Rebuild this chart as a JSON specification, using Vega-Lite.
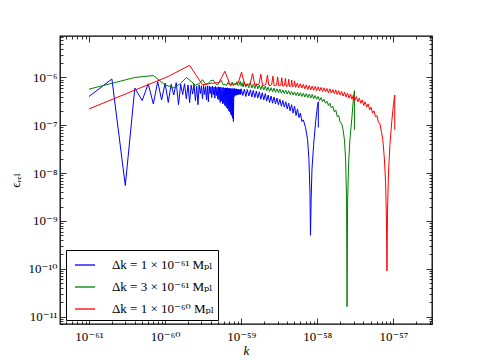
{
"$schema": "https://vega.github.io/schema/vega-lite/v6.json",
"width": 372, "height": 288,
"autosize": "none",
"padding": {"left": 60, "top": 36, "right": 48, "bottom": 36},
"config": {
 "view": {"stroke": "#000", "strokeWidth": 1.3},
 "font": "Liberation Serif, DejaVu Serif",
 "axis": {"domain": false, "grid": false, "labelFont": "Liberation Serif, DejaVu Serif", "labelFontSize": 13, "labelColor": "#000", "tickColor": "#000", "tickWidth": 0.8, "labelOverlap": false, "labelFlush": false, "titleFont": "Liberation Serif, DejaVu Serif", "titleFontWeight": "normal", "titleFontSize": 13, "titleColor": "#000"}
},
"layer": [
{
"data": {"values": [
{"s":"a","k":1e-61,"e":4.0e-7},{"s":"a","k":2e-61,"e":9.3e-7},{"s":"a","k":3e-61,"e":5.5e-9},{"s":"a","k":4e-61,"e":6.0e-7},{"s":"a","k":5e-61,"e":3.3e-7},{"s":"a","k":6e-61,"e":7.4e-7},{"s":"a","k":7e-61,"e":2.8e-7},{"s":"a","k":8e-61,"e":8.2e-7},{"s":"a","k":9e-61,"e":3.4e-7},{"s":"a","k":10e-61,"e":7.6e-7},
{"s":"a","k":11e-61,"e":3.0e-7},{"s":"a","k":12e-61,"e":7.2e-7},{"s":"a","k":13e-61,"e":4.3e-7},{"s":"a","k":14e-61,"e":7.8e-7},{"s":"a","k":15e-61,"e":2.7e-7},{"s":"a","k":16e-61,"e":7.2e-7},{"s":"a","k":17e-61,"e":4.4e-7},{"s":"a","k":18e-61,"e":7.4e-7},{"s":"a","k":19e-61,"e":3.6e-7},{"s":"a","k":20e-61,"e":7.0e-7},
{"s":"a","k":21e-61,"e":3.0e-7},{"s":"a","k":22e-61,"e":6.9e-7},{"s":"a","k":23e-61,"e":4.5e-7},{"s":"a","k":24e-61,"e":7.3e-7},{"s":"a","k":25e-61,"e":3.3e-7},{"s":"a","k":26e-61,"e":6.6e-7},{"s":"a","k":27e-61,"e":2.7e-7},{"s":"a","k":28e-61,"e":7.0e-7},{"s":"a","k":29e-61,"e":4.6e-7},{"s":"a","k":30e-61,"e":6.7e-7},
{"s":"a","k":31e-61,"e":3.6e-7},{"s":"a","k":32e-61,"e":6.8e-7},{"s":"a","k":33e-61,"e":4.4e-7},{"s":"a","k":34e-61,"e":6.5e-7},{"s":"a","k":35e-61,"e":3.4e-7},{"s":"a","k":36e-61,"e":6.7e-7},{"s":"a","k":37e-61,"e":3.1e-7},{"s":"a","k":38e-61,"e":6.6e-7},{"s":"a","k":39e-61,"e":4.6e-7},{"s":"a","k":40e-61,"e":6.4e-7},
{"s":"a","k":41e-61,"e":3.8e-7},{"s":"a","k":42e-61,"e":6.6e-7},{"s":"a","k":43e-61,"e":4.4e-7},{"s":"a","k":44e-61,"e":6.3e-7},{"s":"a","k":45e-61,"e":3.7e-7},{"s":"a","k":46e-61,"e":6.5e-7},{"s":"a","k":47e-61,"e":4.2e-7},{"s":"a","k":48e-61,"e":6.2e-7},{"s":"a","k":49e-61,"e":3.6e-7},{"s":"a","k":50e-61,"e":6.4e-7},
{"s":"a","k":51e-61,"e":3.4e-7},{"s":"a","k":52e-61,"e":6.2e-7},{"s":"a","k":53e-61,"e":3.0e-7},{"s":"a","k":54e-61,"e":6.3e-7},{"s":"a","k":55e-61,"e":3.2e-7},{"s":"a","k":56e-61,"e":6.1e-7},{"s":"a","k":57e-61,"e":2.8e-7},{"s":"a","k":58e-61,"e":6.2e-7},{"s":"a","k":59e-61,"e":2.9e-7},{"s":"a","k":60e-61,"e":6.0e-7},
{"s":"a","k":61e-61,"e":2.6e-7},{"s":"a","k":62e-61,"e":6.1e-7},{"s":"a","k":63e-61,"e":2.5e-7},{"s":"a","k":64e-61,"e":6.0e-7},{"s":"a","k":65e-61,"e":2.3e-7},{"s":"a","k":66e-61,"e":6.1e-7},{"s":"a","k":67e-61,"e":2.2e-7},{"s":"a","k":68e-61,"e":5.9e-7},{"s":"a","k":69e-61,"e":2.0e-7},{"s":"a","k":70e-61,"e":6.0e-7},
{"s":"a","k":71e-61,"e":1.9e-7},{"s":"a","k":72e-61,"e":5.9e-7},{"s":"a","k":73e-61,"e":1.7e-7},{"s":"a","k":74e-61,"e":5.8e-7},{"s":"a","k":75e-61,"e":1.6e-7},{"s":"a","k":76e-61,"e":5.9e-7},{"s":"a","k":77e-61,"e":1.4e-7},{"s":"a","k":78e-61,"e":5.8e-7},{"s":"a","k":79e-61,"e":1.2e-7},{"s":"a","k":80e-61,"e":5.8e-7},
{"s":"a","k":81e-61,"e":4.0e-7},{"s":"a","k":82e-61,"e":5.9e-7},{"s":"a","k":83e-61,"e":4.3e-7},{"s":"a","k":84e-61,"e":5.7e-7},{"s":"a","k":85e-61,"e":4.2e-7},{"s":"a","k":86e-61,"e":5.8e-7},{"s":"a","k":87e-61,"e":4.4e-7},{"s":"a","k":88e-61,"e":5.7e-7},{"s":"a","k":89e-61,"e":4.3e-7},{"s":"a","k":90e-61,"e":5.6e-7},
{"s":"a","k":91e-61,"e":4.5e-7},{"s":"a","k":92e-61,"e":5.7e-7},{"s":"a","k":93e-61,"e":4.4e-7},{"s":"a","k":94e-61,"e":5.6e-7},{"s":"a","k":95e-61,"e":4.6e-7},{"s":"a","k":96e-61,"e":5.5e-7},{"s":"a","k":97e-61,"e":4.4e-7},{"s":"a","k":98e-61,"e":5.6e-7},{"s":"a","k":99e-61,"e":4.5e-7},{"s":"a","k":100e-61,"e":5.8e-7},
{"s":"a","k":105e-61,"e":4.2e-7},{"s":"a","k":110e-61,"e":5.7e-7},{"s":"a","k":115e-61,"e":4.0e-7},{"s":"a","k":120e-61,"e":5.6e-7},{"s":"a","k":126e-61,"e":4.1e-7},{"s":"a","k":132e-61,"e":5.5e-7},{"s":"a","k":138e-61,"e":3.9e-7},{"s":"a","k":144e-61,"e":5.4e-7},{"s":"a","k":151e-61,"e":3.8e-7},{"s":"a","k":158e-61,"e":5.2e-7},
{"s":"a","k":165e-61,"e":3.7e-7},{"s":"a","k":173e-61,"e":5.0e-7},{"s":"a","k":181e-61,"e":3.5e-7},{"s":"a","k":189e-61,"e":4.8e-7},{"s":"a","k":198e-61,"e":3.4e-7},{"s":"a","k":207e-61,"e":4.6e-7},{"s":"a","k":216e-61,"e":3.2e-7},{"s":"a","k":226e-61,"e":4.3e-7},{"s":"a","k":236e-61,"e":3.0e-7},{"s":"a","k":247e-61,"e":4.1e-7},
{"s":"a","k":258e-61,"e":2.9e-7},{"s":"a","k":270e-61,"e":3.9e-7},{"s":"a","k":282e-61,"e":2.8e-7},{"s":"a","k":295e-61,"e":3.7e-7},{"s":"a","k":308e-61,"e":2.7e-7},{"s":"a","k":322e-61,"e":3.5e-7},{"s":"a","k":337e-61,"e":2.5e-7},{"s":"a","k":352e-61,"e":3.3e-7},{"s":"a","k":368e-61,"e":2.4e-7},{"s":"a","k":385e-61,"e":3.1e-7},
{"s":"a","k":402e-61,"e":2.2e-7},{"s":"a","k":420e-61,"e":2.9e-7},{"s":"a","k":439e-61,"e":2.0e-7},{"s":"a","k":459e-61,"e":2.7e-7},{"s":"a","k":480e-61,"e":1.8e-7},{"s":"a","k":502e-61,"e":2.5e-7},{"s":"a","k":525e-61,"e":1.6e-7},{"s":"a","k":549e-61,"e":2.2e-7},{"s":"a","k":574e-61,"e":1.45e-7},{"s":"a","k":600e-61,"e":1.8e-7},
{"s":"a","k":627e-61,"e":1.2e-7},{"s":"a","k":655e-61,"e":1.3e-7},{"s":"a","k":700e-61,"e":9e-8},{"s":"a","k":745e-61,"e":5e-8},{"s":"a","k":775e-61,"e":2e-8},{"s":"a","k":800e-61,"e":4e-9},{"s":"a","k":813e-61,"e":5e-10},{"s":"a","k":830e-61,"e":3e-9},{"s":"a","k":850e-61,"e":1.2e-8},{"s":"a","k":895e-61,"e":4e-8},
{"s":"a","k":950e-61,"e":1.2e-7},{"s":"a","k":1000e-61,"e":2.4e-7},{"s":"a","k":1030e-61,"e":3.1e-7},{"s":"a","k":1031e-61,"e":9e-8},

{"s":"b","k":1e-61,"e":5.7e-7},{"s":"b","k":4e-61,"e":1.0e-6},{"s":"b","k":7e-61,"e":1.1e-6},{"s":"b","k":10e-61,"e":7.0e-7},{"s":"b","k":13e-61,"e":6.1e-7},{"s":"b","k":16e-61,"e":7.5e-7},{"s":"b","k":19e-61,"e":1.0e-6},{"s":"b","k":22e-61,"e":8.3e-7},{"s":"b","k":25e-61,"e":6.9e-7},{"s":"b","k":28e-61,"e":7.4e-7},
{"s":"b","k":31e-61,"e":9.0e-7},{"s":"b","k":34e-61,"e":7.2e-7},{"s":"b","k":37e-61,"e":7.6e-7},{"s":"b","k":40e-61,"e":8.6e-7},{"s":"b","k":43e-61,"e":8.8e-7},{"s":"b","k":46e-61,"e":7.4e-7},{"s":"b","k":49e-61,"e":7.0e-7},{"s":"b","k":52e-61,"e":8.2e-7},{"s":"b","k":55e-61,"e":8.6e-7},{"s":"b","k":58e-61,"e":7.0e-7},
{"s":"b","k":61e-61,"e":7.3e-7},{"s":"b","k":64e-61,"e":6.7e-7},{"s":"b","k":67e-61,"e":7.9e-7},{"s":"b","k":70e-61,"e":7.0e-7},{"s":"b","k":73e-61,"e":6.6e-7},{"s":"b","k":76e-61,"e":8.0e-7},{"s":"b","k":79e-61,"e":6.8e-7},{"s":"b","k":82e-61,"e":7.4e-7},{"s":"b","k":85e-61,"e":6.9e-7},{"s":"b","k":88e-61,"e":8.2e-7},
{"s":"b","k":91e-61,"e":6.8e-7},{"s":"b","k":94e-61,"e":7.0e-7},{"s":"b","k":97e-61,"e":8.3e-7},{"s":"b","k":100e-61,"e":6.6e-7},{"s":"b","k":103e-61,"e":7.8e-7},{"s":"b","k":106e-61,"e":6.3e-7},{"s":"b","k":110e-61,"e":8.2e-7},{"s":"b","k":115e-61,"e":6.3e-7},{"s":"b","k":120e-61,"e":7.4e-7},{"s":"b","k":126e-61,"e":6.1e-7},
{"s":"b","k":132e-61,"e":7.8e-7},{"s":"b","k":138e-61,"e":6.0e-7},{"s":"b","k":144e-61,"e":7.2e-7},{"s":"b","k":151e-61,"e":5.9e-7},{"s":"b","k":158e-61,"e":7.4e-7},{"s":"b","k":165e-61,"e":5.8e-7},{"s":"b","k":173e-61,"e":6.9e-7},{"s":"b","k":181e-61,"e":5.6e-7},{"s":"b","k":189e-61,"e":6.8e-7},{"s":"b","k":198e-61,"e":5.5e-7},
{"s":"b","k":207e-61,"e":6.6e-7},{"s":"b","k":216e-61,"e":5.3e-7},{"s":"b","k":226e-61,"e":6.3e-7},{"s":"b","k":236e-61,"e":5.1e-7},{"s":"b","k":247e-61,"e":6.1e-7},{"s":"b","k":258e-61,"e":5.0e-7},{"s":"b","k":270e-61,"e":6.0e-7},{"s":"b","k":282e-61,"e":4.9e-7},{"s":"b","k":295e-61,"e":5.8e-7},{"s":"b","k":308e-61,"e":4.8e-7},
{"s":"b","k":322e-61,"e":5.7e-7},{"s":"b","k":337e-61,"e":4.7e-7},{"s":"b","k":352e-61,"e":5.5e-7},{"s":"b","k":368e-61,"e":4.6e-7},{"s":"b","k":385e-61,"e":5.4e-7},{"s":"b","k":402e-61,"e":4.5e-7},{"s":"b","k":420e-61,"e":5.3e-7},{"s":"b","k":439e-61,"e":4.4e-7},{"s":"b","k":459e-61,"e":5.1e-7},{"s":"b","k":480e-61,"e":4.3e-7},
{"s":"b","k":502e-61,"e":5.0e-7},{"s":"b","k":525e-61,"e":4.2e-7},{"s":"b","k":549e-61,"e":4.9e-7},{"s":"b","k":574e-61,"e":4.1e-7},{"s":"b","k":600e-61,"e":4.8e-7},{"s":"b","k":627e-61,"e":4.0e-7},{"s":"b","k":655e-61,"e":4.7e-7},{"s":"b","k":685e-61,"e":3.9e-7},{"s":"b","k":716e-61,"e":4.6e-7},{"s":"b","k":749e-61,"e":3.8e-7},
{"s":"b","k":783e-61,"e":4.5e-7},{"s":"b","k":819e-61,"e":3.7e-7},{"s":"b","k":856e-61,"e":4.4e-7},{"s":"b","k":895e-61,"e":3.6e-7},{"s":"b","k":936e-61,"e":4.2e-7},{"s":"b","k":979e-61,"e":3.5e-7},{"s":"b","k":1024e-61,"e":4.0e-7},{"s":"b","k":1070e-61,"e":3.3e-7},{"s":"b","k":1119e-61,"e":3.8e-7},{"s":"b","k":1170e-61,"e":3.1e-7},
{"s":"b","k":1223e-61,"e":3.5e-7},{"s":"b","k":1279e-61,"e":2.9e-7},{"s":"b","k":1337e-61,"e":3.2e-7},{"s":"b","k":1398e-61,"e":2.6e-7},{"s":"b","k":1462e-61,"e":2.9e-7},{"s":"b","k":1528e-61,"e":2.3e-7},{"s":"b","k":1598e-61,"e":2.5e-7},{"s":"b","k":1670e-61,"e":1.9e-7},{"s":"b","k":1746e-61,"e":2.1e-7},{"s":"b","k":1826e-61,"e":1.5e-7},
{"s":"b","k":1909e-61,"e":1.6e-7},{"s":"b","k":1996e-61,"e":1.15e-7},{"s":"b","k":2087e-61,"e":1.1e-7},{"s":"b","k":2180e-61,"e":8e-8},{"s":"b","k":2270e-61,"e":5e-8},{"s":"b","k":2350e-61,"e":2e-8},{"s":"b","k":2420e-61,"e":3e-9},{"s":"b","k":2460e-61,"e":1.6e-11},{"s":"b","k":2500e-61,"e":2.5e-9},{"s":"b","k":2570e-61,"e":1.5e-8},
{"s":"b","k":2680e-61,"e":5e-8},{"s":"b","k":2850e-61,"e":1.5e-7},{"s":"b","k":2960e-61,"e":3.2e-7},{"s":"b","k":3070e-61,"e":5.3e-7},{"s":"b","k":3075e-61,"e":8e-8},

{"s":"c","k":1e-61,"e":2.2e-7},{"s":"c","k":11e-61,"e":1.05e-6},{"s":"c","k":21e-61,"e":1.8e-6},{"s":"c","k":31e-61,"e":7.0e-7},{"s":"c","k":41e-61,"e":7.6e-7},{"s":"c","k":51e-61,"e":7.8e-7},{"s":"c","k":61e-61,"e":1.35e-6},{"s":"c","k":71e-61,"e":7.2e-7},{"s":"c","k":81e-61,"e":7.3e-7},{"s":"c","k":91e-61,"e":7.6e-7},
{"s":"c","k":101e-61,"e":1.3e-6},{"s":"c","k":111e-61,"e":7.0e-7},{"s":"c","k":121e-61,"e":7.1e-7},{"s":"c","k":131e-61,"e":7.4e-7},{"s":"c","k":141e-61,"e":1.22e-6},{"s":"c","k":151e-61,"e":6.9e-7},{"s":"c","k":161e-61,"e":7.0e-7},{"s":"c","k":171e-61,"e":7.3e-7},{"s":"c","k":181e-61,"e":1.17e-6},{"s":"c","k":191e-61,"e":6.8e-7},
{"s":"c","k":201e-61,"e":6.9e-7},{"s":"c","k":211e-61,"e":7.2e-7},{"s":"c","k":221e-61,"e":1.12e-6},{"s":"c","k":231e-61,"e":6.8e-7},{"s":"c","k":241e-61,"e":6.8e-7},{"s":"c","k":251e-61,"e":7.1e-7},{"s":"c","k":261e-61,"e":1.07e-6},{"s":"c","k":271e-61,"e":6.7e-7},{"s":"c","k":281e-61,"e":6.8e-7},{"s":"c","k":291e-61,"e":7.0e-7},
{"s":"c","k":301e-61,"e":1.03e-6},{"s":"c","k":311e-61,"e":6.7e-7},{"s":"c","k":321e-61,"e":6.7e-7},{"s":"c","k":331e-61,"e":6.9e-7},{"s":"c","k":341e-61,"e":9.9e-7},{"s":"c","k":351e-61,"e":6.6e-7},{"s":"c","k":361e-61,"e":6.6e-7},{"s":"c","k":371e-61,"e":6.9e-7},{"s":"c","k":381e-61,"e":9.6e-7},{"s":"c","k":391e-61,"e":6.5e-7},
{"s":"c","k":401e-61,"e":6.6e-7},{"s":"c","k":411e-61,"e":6.8e-7},{"s":"c","k":421e-61,"e":9.2e-7},{"s":"c","k":431e-61,"e":6.5e-7},{"s":"c","k":441e-61,"e":6.5e-7},{"s":"c","k":451e-61,"e":6.7e-7},{"s":"c","k":461e-61,"e":8.8e-7},{"s":"c","k":471e-61,"e":6.4e-7},{"s":"c","k":481e-61,"e":6.5e-7},{"s":"c","k":491e-61,"e":6.6e-7},
{"s":"c","k":501e-61,"e":8.5e-7},{"s":"c","k":520e-61,"e":6.2e-7},{"s":"c","k":545e-61,"e":7.6e-7},{"s":"c","k":570e-61,"e":6.1e-7},{"s":"c","k":597e-61,"e":7.4e-7},{"s":"c","k":625e-61,"e":6.0e-7},{"s":"c","k":654e-61,"e":7.2e-7},{"s":"c","k":685e-61,"e":5.8e-7},{"s":"c","k":716e-61,"e":7.0e-7},{"s":"c","k":749e-61,"e":5.6e-7},
{"s":"c","k":783e-61,"e":6.8e-7},{"s":"c","k":819e-61,"e":5.5e-7},{"s":"c","k":856e-61,"e":6.6e-7},{"s":"c","k":895e-61,"e":5.4e-7},{"s":"c","k":936e-61,"e":6.5e-7},{"s":"c","k":979e-61,"e":5.3e-7},{"s":"c","k":1024e-61,"e":6.4e-7},{"s":"c","k":1070e-61,"e":5.2e-7},{"s":"c","k":1119e-61,"e":6.2e-7},{"s":"c","k":1170e-61,"e":5.1e-7},
{"s":"c","k":1223e-61,"e":6.1e-7},{"s":"c","k":1279e-61,"e":5.0e-7},{"s":"c","k":1337e-61,"e":5.9e-7},{"s":"c","k":1398e-61,"e":4.8e-7},{"s":"c","k":1462e-61,"e":5.8e-7},{"s":"c","k":1528e-61,"e":4.7e-7},{"s":"c","k":1598e-61,"e":5.6e-7},{"s":"c","k":1670e-61,"e":4.6e-7},{"s":"c","k":1746e-61,"e":5.5e-7},{"s":"c","k":1826e-61,"e":4.4e-7},
{"s":"c","k":1909e-61,"e":5.3e-7},{"s":"c","k":1996e-61,"e":4.3e-7},{"s":"c","k":2087e-61,"e":5.1e-7},{"s":"c","k":2182e-61,"e":4.1e-7},{"s":"c","k":2281e-61,"e":4.9e-7},{"s":"c","k":2385e-61,"e":3.9e-7},{"s":"c","k":2493e-61,"e":4.7e-7},{"s":"c","k":2607e-61,"e":3.7e-7},{"s":"c","k":2725e-61,"e":4.5e-7},{"s":"c","k":2849e-61,"e":3.5e-7},
{"s":"c","k":2979e-61,"e":4.3e-7},{"s":"c","k":3114e-61,"e":3.3e-7},{"s":"c","k":3256e-61,"e":4.0e-7},{"s":"c","k":3404e-61,"e":3.1e-7},{"s":"c","k":3559e-61,"e":3.7e-7},{"s":"c","k":3721e-61,"e":2.9e-7},{"s":"c","k":3890e-61,"e":3.4e-7},{"s":"c","k":4067e-61,"e":2.6e-7},{"s":"c","k":4252e-61,"e":3.1e-7},{"s":"c","k":4445e-61,"e":2.4e-7},
{"s":"c","k":4647e-61,"e":2.8e-7},{"s":"c","k":4858e-61,"e":2.1e-7},{"s":"c","k":5079e-61,"e":2.4e-7},{"s":"c","k":5310e-61,"e":1.8e-7},{"s":"c","k":5552e-61,"e":2.0e-7},{"s":"c","k":5804e-61,"e":1.5e-7},{"s":"c","k":6068e-61,"e":1.6e-7},{"s":"c","k":6344e-61,"e":1.15e-7},{"s":"c","k":6632e-61,"e":1.1e-7},{"s":"c","k":6934e-61,"e":7.5e-8},
{"s":"c","k":7249e-61,"e":5e-8},{"s":"c","k":7600e-61,"e":2e-8},{"s":"c","k":7900e-61,"e":6e-9},{"s":"c","k":8100e-61,"e":1e-9},{"s":"c","k":8220e-61,"e":9e-11},{"s":"c","k":8350e-61,"e":1.5e-9},{"s":"c","k":8600e-61,"e":1e-8},{"s":"c","k":9000e-61,"e":4e-8},{"s":"c","k":9500e-61,"e":1.2e-7},{"s":"c","k":10000e-61,"e":2.7e-7},
{"s":"c","k":10400e-61,"e":4.3e-7},{"s":"c","k":10410e-61,"e":8e-8}
]},
"mark": {"type": "line", "strokeWidth": 1, "clip": true},
"encoding": {
 "x": {"field": "k", "type": "quantitative", "scale": {"type": "log", "domain": [4.16e-62, 3.21e-57], "nice": false},
  "axis": {"title": "k", "titleFontStyle": "italic", "titlePadding": -2,
   "values": [5e-62,6e-62,7e-62,8e-62,9e-62,1e-61,2e-61,3e-61,4e-61,5e-61,6e-61,7e-61,8e-61,9e-61,1e-60,2e-60,3e-60,4e-60,5e-60,6e-60,7e-60,8e-60,9e-60,1e-59,2e-59,3e-59,4e-59,5e-59,6e-59,7e-59,8e-59,9e-59,1e-58,2e-58,3e-58,4e-58,5e-58,6e-58,7e-58,8e-58,9e-58,1e-57,2e-57,3e-57],
   "tickSize": {"condition": {"test": "abs(log(datum.value)/LN10 - round(log(datum.value)/LN10)) < 0.001", "value": -6}, "value": -3},
   "labelPadding": 12,
   "labelExpr": "abs(log(datum.value)/LN10 - round(log(datum.value)/LN10)) > 0.001 ? '' : round(log(datum.value)/LN10) == -61 ? '10⁻⁶¹' : round(log(datum.value)/LN10) == -60 ? '10⁻⁶⁰' : round(log(datum.value)/LN10) == -59 ? '10⁻⁵⁹' : round(log(datum.value)/LN10) == -58 ? '10⁻⁵⁸' : '10⁻⁵⁷'"}},
 "y": {"field": "e", "type": "quantitative", "scale": {"type": "log", "domain": [6.97e-12, 7.38e-6], "nice": false},
  "axis": {"title": "ϵᵣₑₗ", "titlePadding": 6,
   "values": [7e-12,8e-12,9e-12,1e-11,2e-11,3e-11,4e-11,5e-11,6e-11,7e-11,8e-11,9e-11,1e-10,2e-10,3e-10,4e-10,5e-10,6e-10,7e-10,8e-10,9e-10,1e-9,2e-9,3e-9,4e-9,5e-9,6e-9,7e-9,8e-9,9e-9,1e-8,2e-8,3e-8,4e-8,5e-8,6e-8,7e-8,8e-8,9e-8,1e-7,2e-7,3e-7,4e-7,5e-7,6e-7,7e-7,8e-7,9e-7,1e-6,2e-6,3e-6,4e-6,5e-6,6e-6,7e-6],
   "tickSize": {"condition": {"test": "abs(log(datum.value)/LN10 - round(log(datum.value)/LN10)) < 0.001", "value": -6}, "value": -3},
   "labelPadding": 9,
   "labelExpr": "abs(log(datum.value)/LN10 - round(log(datum.value)/LN10)) > 0.001 ? '' : round(log(datum.value)/LN10) == -6 ? '10⁻⁶' : round(log(datum.value)/LN10) == -7 ? '10⁻⁷' : round(log(datum.value)/LN10) == -8 ? '10⁻⁸' : round(log(datum.value)/LN10) == -9 ? '10⁻⁹' : round(log(datum.value)/LN10) == -10 ? '10⁻¹⁰' : '10⁻¹¹'"}},
 "color": {"field": "s", "type": "nominal", "scale": {"domain": ["a", "b", "c"], "range": ["#0000ff", "#008000", "#ff0000"]},
  "legend": {"orient": "none", "legendX": 6, "legendY": 214, "title": null, "symbolType": "stroke", "symbolSize": 400, "symbolStrokeWidth": 1.3,
   "labelFontSize": 13, "labelOffset": 16, "padding": 4, "rowPadding": 4, "symbolOffset": 4, "strokeColor": "#000", "fillColor": "#fff", "cornerRadius": 0,
   "labelFont": "Liberation Serif, DejaVu Serif", "labelColor": "#000",
   "labelExpr": "datum.value == 'a' ? 'Δk = 1 × 10⁻⁶¹ Mₚₗ' : datum.value == 'b' ? 'Δk = 3 × 10⁻⁶¹ Mₚₗ' : 'Δk = 1 × 10⁻⁶⁰ Mₚₗ'"}}
}
},
{
"data": {"values": [{"k": 1e-60, "e": 1e-8}]},
"mark": {"type": "point", "opacity": 0},
"encoding": {
 "x": {"field": "k", "type": "quantitative", "scale": {"type": "log", "domain": [4.16e-62, 3.21e-57], "nice": false},
  "axis": {"orient": "top", "title": null, "labels": false,
   "values": [5e-62,6e-62,7e-62,8e-62,9e-62,1e-61,2e-61,3e-61,4e-61,5e-61,6e-61,7e-61,8e-61,9e-61,1e-60,2e-60,3e-60,4e-60,5e-60,6e-60,7e-60,8e-60,9e-60,1e-59,2e-59,3e-59,4e-59,5e-59,6e-59,7e-59,8e-59,9e-59,1e-58,2e-58,3e-58,4e-58,5e-58,6e-58,7e-58,8e-58,9e-58,1e-57,2e-57,3e-57],
   "tickSize": {"condition": {"test": "abs(log(datum.value)/LN10 - round(log(datum.value)/LN10)) < 0.001", "value": -6}, "value": -3}}},
 "y": {"field": "e", "type": "quantitative", "scale": {"type": "log", "domain": [6.97e-12, 7.38e-6], "nice": false},
  "axis": {"orient": "right", "title": null, "labels": false,
   "values": [7e-12,8e-12,9e-12,1e-11,2e-11,3e-11,4e-11,5e-11,6e-11,7e-11,8e-11,9e-11,1e-10,2e-10,3e-10,4e-10,5e-10,6e-10,7e-10,8e-10,9e-10,1e-9,2e-9,3e-9,4e-9,5e-9,6e-9,7e-9,8e-9,9e-9,1e-8,2e-8,3e-8,4e-8,5e-8,6e-8,7e-8,8e-8,9e-8,1e-7,2e-7,3e-7,4e-7,5e-7,6e-7,7e-7,8e-7,9e-7,1e-6,2e-6,3e-6,4e-6,5e-6,6e-6,7e-6],
   "tickSize": {"condition": {"test": "abs(log(datum.value)/LN10 - round(log(datum.value)/LN10)) < 0.001", "value": -6}, "value": -3}}}
}
}
],
"resolve": {"axis": {"x": "independent", "y": "independent"}}
}
